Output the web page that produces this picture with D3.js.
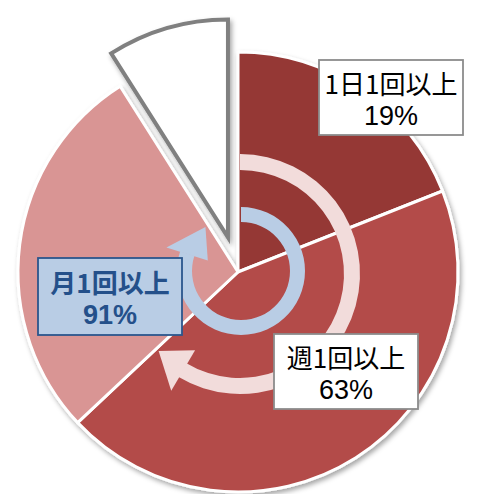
<!DOCTYPE html>
<html>
<head>
<meta charset="utf-8">
<script src="https://cdn.jsdelivr.net/npm/d3@7"></script>
<style>
  html, body { margin: 0; padding: 0; background: #ffffff; }
  svg { display: block; }
</style>
</head>
<body>
<svg id="chart" width="483" height="494"></svg>
<script>
// ---- data ----
const categories = ["1日1回以上", "週1回以上", "月1回以上", "それ以下"];
const sliceValues = [19, 44, 28, 9];          // share of each slice (%)
const labelPercents = [19, 63, 91];           // cumulative percentages shown in labels
const sliceColors = ["#953735", "#b34b48", "#d99594", "#ffffff"];

// ---- layout ----
const W = 483, H = 494;
const cx = 238, cy = 272, R = 220;
const explode = 36;

const svg = d3.select("#chart");
const defs = svg.append("defs");
const sh = defs.append("filter").attr("id", "shadow")
  .attr("x", "-20%").attr("y", "-20%").attr("width", "140%").attr("height", "140%");
sh.append("feDropShadow").attr("dx", 2).attr("dy", 3).attr("stdDeviation", 2.5)
  .attr("flood-color", "#000").attr("flood-opacity", 0.35);

const pie = d3.pie().sort(null).value(d => d.v).startAngle(0).endAngle(2 * Math.PI);
const arcs = pie(categories.map((c, i) => ({ c, v: sliceValues[i], i })));
const arc = d3.arc().innerRadius(0).outerRadius(R);

const gPie = svg.append("g").attr("transform", `translate(${cx},${cy})`);
const gMain = gPie.append("g").attr("filter", "url(#shadow)");
gMain.selectAll("path.slice").data(arcs.filter(d => d.data.i < 3)).join("path")
  .attr("class", "slice")
  .attr("d", arc)
  .attr("fill", d => sliceColors[d.data.i])
  .attr("stroke", "#ffffff").attr("stroke-width", 3).attr("stroke-linejoin", "round");

// exploded last slice
arcs.filter(d => d.data.i === 3).forEach(d => {
  const mid = (d.startAngle + d.endAngle) / 2;
  const ox = explode * Math.sin(mid), oy = -explode * Math.cos(mid);
  gPie.append("path")
    .attr("transform", `translate(${ox},${oy})`)
    .attr("d", d3.arc().innerRadius(0).outerRadius(R - 2)(d))
    .attr("fill", sliceColors[3])
    .attr("stroke", "#808080").attr("stroke-width", 4).attr("stroke-linejoin", "miter")
    .attr("filter", "url(#shadow)");
});

// ---- circular arrows ----
const deg = Math.PI / 180;
function pt(ccx, ccy, r, a) { return [ccx + r * Math.sin(a * deg), ccy - r * Math.cos(a * deg)]; }
function curvedArrow(o) {
  const g = svg.append("g");
  g.append("path")
    .attr("transform", `translate(${o.cx},${o.cy})`)
    .attr("d", d3.arc().innerRadius(o.rIn).outerRadius(o.rOut)
      .startAngle(o.start * deg).endAngle(o.bodyEnd * deg)())
    .attr("fill", o.color);
  const rMid = (o.rIn + o.rOut) / 2;
  const p1 = pt(o.cx, o.cy, rMid - o.half, o.bodyEnd - 0.5);
  const p2 = pt(o.cx, o.cy, rMid + o.half, o.bodyEnd - 0.5);
  const tip = pt(o.cx, o.cy, rMid, o.tip);
  g.append("path").attr("d", `M${p1}L${p2}L${tip}Z`).attr("fill", o.color);
}
curvedArrow({ cx: 240, cy: 274, rIn: 104, rOut: 120, start: 0, bodyEnd: 211, half: 23.5, tip: 226.6, color: "#f2dcdb" });
curvedArrow({ cx: 241, cy: 271, rIn: 49, rOut: 64, start: 0, bodyEnd: 288, half: 21.7, tip: 321, color: "#b9cde5" });

// ---- label boxes ----
const boxes = [
  { x: 319, y: 60, w: 144, h: 75, fill: "#ffffff", stroke: "#8c8c8c", color: "#000000", weight: "normal" },
  { x: 274, y: 334, w: 144, h: 75, fill: "#ffffff", stroke: "#8c8c8c", color: "#000000", weight: "normal" },
  { x: 38, y: 258, w: 144, h: 77, fill: "#b9cde5", stroke: "#2b568c", color: "#24508a", weight: "bold" }
];
boxes.forEach((b, i) => {
  const g = svg.append("g");
  g.append("rect").attr("x", b.x).attr("y", b.y).attr("width", b.w).attr("height", b.h)
    .attr("fill", b.fill).attr("stroke", b.stroke).attr("stroke-width", 1.8);
  const tx = b.x + b.w / 2, mid = b.y + b.h / 2;
  g.append("text").attr("text-anchor", "middle")
    .attr("x", tx).attr("y", mid - 15.5)
    .attr("dominant-baseline", "central")
    .attr("font-family", "'Noto Sans CJK JP', sans-serif")
    .attr("font-size", 26).attr("font-weight", b.weight).attr("fill", b.color)
    .text(categories[i]);
  g.append("text").attr("text-anchor", "middle")
    .attr("x", tx).attr("y", mid + 18.5)
    .attr("dominant-baseline", "central")
    .attr("font-family", "'Liberation Sans', Arial, sans-serif")
    .attr("font-size", 27).attr("font-weight", b.weight).attr("fill", b.color)
    .text(labelPercents[i] + "%");
});
</script>
</body>
</html>
